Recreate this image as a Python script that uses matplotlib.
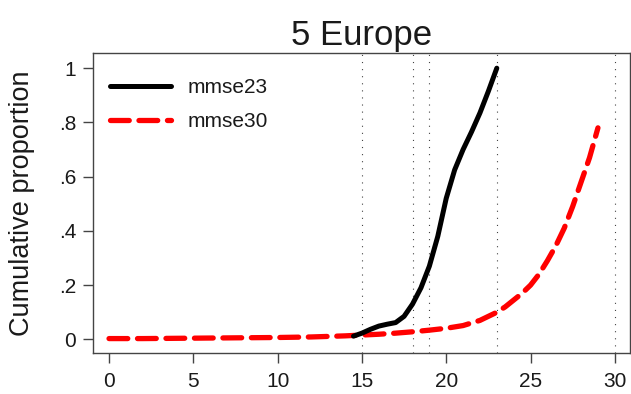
import matplotlib
matplotlib.use("Agg")
import matplotlib.pyplot as plt

plt.rcParams['font.family'] = ['Liberation Sans', 'DejaVu Sans']
plt.rcParams['lines.scale_dashes'] = False

title = "5 Europe"
ylabel = "Cumulative proportion"

# cumulative proportion, MMSE threshold 23
x_mmse23 = [14.5, 15, 15.5, 16, 16.5, 17, 17.5, 18, 18.5, 19, 19.5, 20,
            20.5, 21, 21.5, 22, 22.5, 23]
y_mmse23 = [0.012, 0.023, 0.037, 0.049, 0.056, 0.062, 0.085, 0.13, 0.19,
            0.27, 0.38, 0.52, 0.625, 0.70, 0.765, 0.835, 0.915, 1.0]

# cumulative proportion, MMSE threshold 30
x_mmse30 = [0, 2, 4, 6, 8, 10, 12, 14, 15, 16, 17, 18, 19, 20, 21, 22,
            23, 23.5, 24, 24.5, 25, 25.5, 26, 26.5, 27, 27.5, 28, 28.5, 29]
y_mmse30 = [0.003, 0.003, 0.004, 0.005, 0.006, 0.007, 0.009, 0.013, 0.016,
            0.019, 0.023, 0.028, 0.034, 0.041, 0.051, 0.07, 0.10, 0.12,
            0.145, 0.17, 0.20, 0.24, 0.29, 0.345, 0.41, 0.49, 0.58, 0.67, 0.78]

ref_lines = [15, 18, 19, 23, 30]
xticks = [0, 5, 10, 15, 20, 25, 30]
yticks = [0, 0.2, 0.4, 0.6, 0.8, 1.0]
yticklabels = ["0", ".2", ".4", ".6", ".8", "1"]

fig = plt.figure(figsize=(6.31, 3.94), dpi=100)
ax = fig.add_axes([0.1474, 0.1028, 0.8510, 0.7627])

for xv in ref_lines:
    ax.axvline(xv, color='#444444', lw=0.8, linestyle=(0, (0.8, 4.3)), zorder=1)

ax.plot(x_mmse23, y_mmse23, color='black', lw=3.6, solid_capstyle='round',
        solid_joinstyle='round', label='mmse23', zorder=3)
ax.plot(x_mmse30, y_mmse30, color='#ff0000', lw=3.8,
        linestyle=(0, (13.5, 7.0)), dash_capstyle='round',
        label='mmse30', zorder=2)

ax.set_xlim(-0.95, 30.9)
ax.set_ylim(-0.052, 1.056)
ax.set_xticks(xticks)
ax.set_yticks(yticks)
ax.set_yticklabels(yticklabels)

ax.tick_params(axis='both', labelsize=15, length=7.2, width=1.0,
               color='#444444', labelcolor='#1a1a1a', pad=5)
ax.tick_params(axis='x', pad=6)
for sp in ax.spines.values():
    sp.set_color('#444444')
    sp.set_linewidth(1.0)

ax.set_title(title, fontsize=25, pad=6, color='#1a1a1a')
ax.set_ylabel(ylabel, fontsize=19.5, labelpad=17, color='#1a1a1a')

ax.legend(loc='upper left', bbox_to_anchor=(0.032, 0.917), frameon=False,
          fontsize=15, handlelength=2.93, handletextpad=0.8,
          labelspacing=0.74, borderpad=0, borderaxespad=0,
          labelcolor='#1a1a1a')

fig.savefig("out.png", dpi=100)
